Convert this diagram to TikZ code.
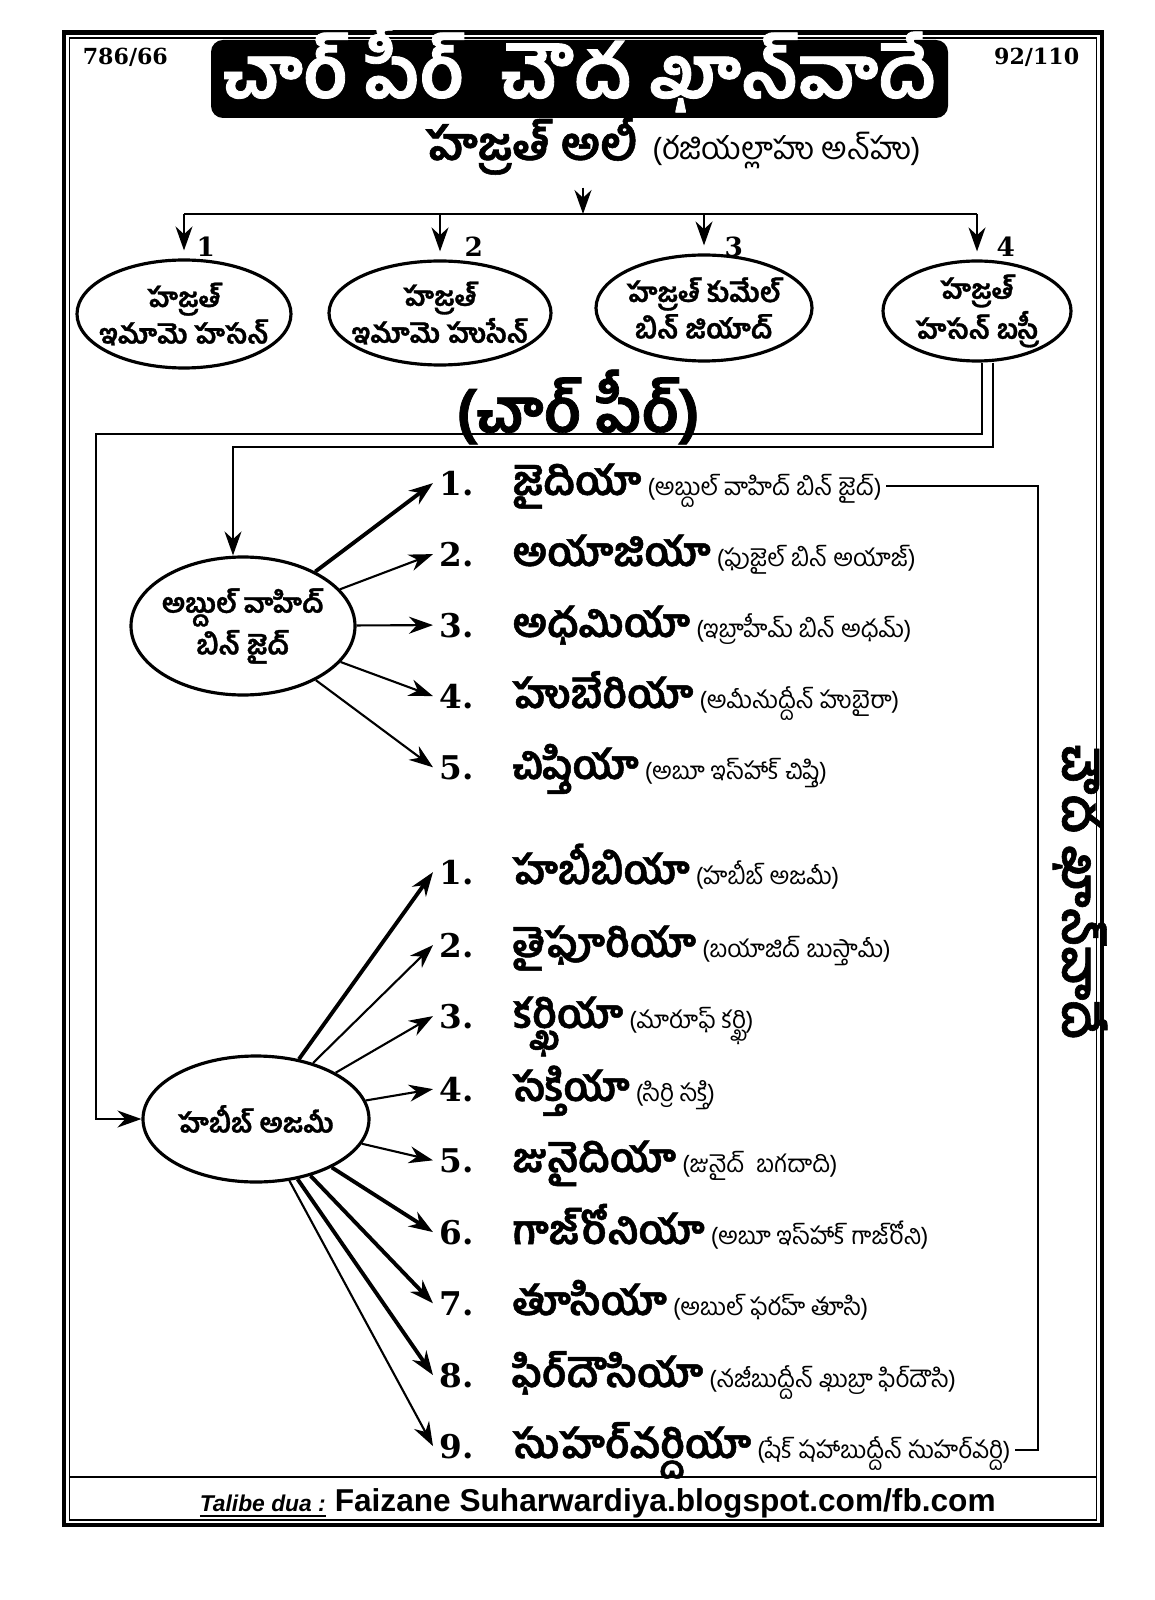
\documentclass[tikz,border=0pt]{standalone}
\usepackage{fontspec}
\usepackage{tikz}
\usetikzlibrary{positioning, arrows.meta, shapes.geometric}

\newfontfamily\telugu[Script=Telugu, BoldFeatures={FakeBold=1.2}]{Hind Guntur}
\newfontfamily\numfont{DejaVu Serif}
\newfontfamily\footfont{Liberation Sans}
\newcommand{\notefont}{\telugu\mdseries\fontsize{6.9}{8}\selectfont}

\begin{document}
\begin{tikzpicture}[
  > = {Stealth[length=2.4mm, width=1.7mm]},
  line width=0.6pt,
  ell/.style={draw, ellipse, line width=0.9pt, inner xsep=-3mm, inner ysep=-1.2mm, align=center,
              font=\telugu\bfseries\fontsize{7.7}{9}\selectfont},
  num/.style={anchor=base west, inner sep=1.5pt,
              font=\numfont\bfseries\fontsize{9.3}{10}\selectfont},
  item/.style={anchor=base west, inner sep=1pt,
               font=\telugu\bfseries\fontsize{11.4}{12}\selectfont},
  lbl/.style={anchor=west, inner sep=1pt, font=\numfont\bfseries\fontsize{7.5}{8}\selectfont},
  corner/.style={font=\numfont\bfseries\fontsize{6.3}{7}\selectfont},
  arr/.style={->, line width=0.6pt},
  arrb/.style={->, line width=1.1pt}
]
  \fill[white] (0,0) rectangle (11.54,-16);
  \useasboundingbox (0,0) rectangle (11.54,-16);

  \draw[line width=1.2pt] (0.64,-0.325) rectangle (11.02,-15.25);
  \draw[line width=0.5pt] (0.695,-0.38) rectangle (10.965,-15.20);
  \draw[line width=0.8pt] (0.695,-14.77) -- (10.965,-14.77);

  \node[corner, anchor=west] (pg)  at (0.70,-0.57)  {786/66};
  \node[corner, anchor=east] (hj)  at (10.92,-0.57) {92/110};
  \node[fill=black, rounded corners=1.2mm, minimum width=7.37cm, minimum height=0.78cm,
        inner sep=0pt, text height=0.43cm, text depth=0.05cm,
        text=white, font=\telugu\bfseries\fontsize{20.7}{22}\selectfont]
    (title) at (5.795,-0.79) {చార్ పీర్~~చౌద ఖాన్^^^^200cవాదే};

  \node[anchor=base east, font=\telugu\bfseries\fontsize{13}{14}\selectfont]
    (ali) at (6.50,-1.60) {హజ్రత్ అలీ};
  \node[anchor=base west, font=\telugu\fontsize{8.9}{10}\selectfont]
    (alinote) at ([xshift=-1mm]ali.base east) {(రజియల్లాహు అన్^^^^200cహు)};

  \coordinate (split) at (5.83,-2.14);
  \draw[arr] (split |- ali.south) -- (split);

  \node[ell, minimum width=2.14cm, minimum height=1.08cm] (hs1) at (1.84,-3.14) {హజ్రత్\\ఇమామె హసన్};
  \node[ell, minimum width=2.22cm, minimum height=1.04cm] (hs2) at (4.40,-3.13) {హజ్రత్\\ఇమామె హుసేన్};
  \node[ell, minimum width=2.16cm, minimum height=1.06cm] (hs3) at (7.04,-3.08) {హజ్రత్ కుమేల్\\బిన్ జియాద్};
  \node[ell, minimum width=1.88cm, minimum height=1.00cm] (hs4) at (9.77,-3.11) {హజ్రత్\\హసన్ బస్రీ};

  \draw (split -| hs1) -- (split -| hs4);
  \draw[arr, shorten >=0.8mm] (split -| hs1) -- (hs1);
  \draw[arr, shorten >=0.8mm] (split -| hs2) -- (hs2);
  \draw[arr, shorten >=0.8mm] (split -| hs3) -- (hs3);
  \draw[arr, shorten >=0.8mm] (split -| hs4) -- (hs4);

  \node[lbl] (l1) at (1.92,-2.47) {1};
  \node[lbl] (l2) at (4.60,-2.47) {2};
  \node[lbl] (l3) at (7.20,-2.47) {3};
  \node[lbl] (l4) at (9.92,-2.47) {4};

  \node[font=\telugu\bfseries\fontsize{17.4}{19}\selectfont] (charpeer) at (5.78,-4.07) {(చార్ పీర్)};

  \node[ell, minimum width=2.24cm, minimum height=1.38cm] (wahid) at (2.43,-6.26) {అబ్దుల్ వాహిద్\\బిన్ జైద్};
  \node[ell, minimum width=2.26cm, minimum height=1.26cm] (habib) at (2.56,-11.19) {హబీబ్ అజమీ};

  \coordinate (bendA) at (9.82,-4.34);
  \coordinate (bendB) at (9.93,-4.47);
  \coordinate (leftA) at (0.96,-4.34);
  \coordinate (leftB) at (2.33,-4.47);
  \draw[arr] (hs4.south -| bendA) |- (leftA) |- (habib);
  \draw[arr] (hs4.south -| bendB) |- (leftB) -- (leftB |- wahid.north);

  \node[num]  (z1)  at (4.33,-4.95) {1.};
  \node[item] (z1t) at (5.08,-4.95) {జైదియా\notefont{} (అబ్దుల్ వాహిద్ బిన్ జైద్)};
  \node[num]  (z2)  at (4.33,-5.66) {2.};
  \node[item] (z2t) at (5.08,-5.66) {అయాజియా\notefont{} (ఫుజైల్ బిన్ అయాజ్)};
  \node[num]  (z3)  at (4.33,-6.37) {3.};
  \node[item] (z3t) at (5.08,-6.37) {అధమియా\notefont{} (ఇబ్రాహీమ్ బిన్ అధమ్)};
  \node[num]  (z4)  at (4.33,-7.08) {4.};
  \node[item] (z4t) at (5.08,-7.08) {హుబేరియా\notefont{} (అమీనుద్దీన్ హుబైరా)};
  \node[num]  (z5)  at (4.33,-7.79) {5.};
  \node[item] (z5t) at (5.08,-7.79) {చిష్తియా\notefont{} (అబూ ఇస్^^^^200cహాక్ చిష్తి)};

  \draw[arrb] (wahid) -- (z1.west);
  \draw[arr]  (wahid) -- (z2.west);
  \draw[arr]  (wahid) -- (z3.west);
  \draw[arr]  (wahid) -- (z4.west);
  \draw[arr]  (wahid) -- (z5.west);

  \node[num]  (h1)  at (4.33,-8.84)  {1.};
  \node[item] (h1t) at (5.08,-8.84)  {హబీబియా\notefont{} (హబీబ్ అజమీ)};
  \node[num]  (h2)  at (4.33,-9.57)  {2.};
  \node[item] (h2t) at (5.08,-9.57)  {తైఫూరియా\notefont{} (బయాజిద్ బుస్తామీ)};
  \node[num]  (h3)  at (4.33,-10.28) {3.};
  \node[item] (h3t) at (5.08,-10.28) {కర్ఖియా\notefont{} (మారూఫ్ కర్ఖి)};
  \node[num]  (h4)  at (4.33,-11.01) {4.};
  \node[item] (h4t) at (5.08,-11.01) {సక్తియా\notefont{} (సిర్రి సక్తి)};
  \node[num]  (h5)  at (4.33,-11.72) {5.};
  \node[item] (h5t) at (5.08,-11.72) {జునైదియా\notefont{} (జునైద్~~బగదాది)};
  \node[num]  (h6)  at (4.33,-12.44) {6.};
  \node[item] (h6t) at (5.08,-12.44) {గాజ్^^^^200cరోనియా\notefont{} (అబూ ఇస్^^^^200cహాక్ గాజ్^^^^200cరోని)};
  \node[num]  (h7)  at (4.33,-13.15) {7.};
  \node[item] (h7t) at (5.08,-13.15) {తూసియా\notefont{} (అబుల్ ఫరహ్ తూసి)};
  \node[num]  (h8)  at (4.33,-13.87) {8.};
  \node[item] (h8t) at (5.08,-13.87) {ఫిర్^^^^200cదౌసియా\notefont{} (నజీబుద్దీన్ ఖుబ్రా ఫిర్^^^^200cదౌసి)};
  \node[num]  (h9)  at (4.33,-14.58) {9.};
  \node[item] (h9t) at (5.08,-14.58) {సుహర్^^^^200cవర్దియా\notefont{} (షేక్ షహాబుద్దీన్ సుహర్^^^^200cవర్ది)};

  \draw[arrb] (habib) -- (h1.west);
  \draw[arr]  (habib) -- (h2.west);
  \draw[arr]  (habib) -- (h3.west);
  \draw[arr]  (habib) -- (h4.west);
  \draw[arr]  (habib) -- (h5.west);
  \draw[arrb] (habib) -- (h6.west);
  \draw[arrb] (habib) -- (h7.west);
  \draw[arrb] (habib) -- (h8.west);
  \draw[arr]  (habib) -- (h9.west);

  \coordinate (brk) at (10.38,-9.6);
  \draw (z1t.east) -| (brk) |- (h9t.east);
  \node[rotate=-90, font=\telugu\bfseries\fontsize{14}{15}\selectfont]
    (vert) at (10.80,-8.92) {చౌద ఖాన్^^^^200cవాదే};

  \node[anchor=base west, font=\footfont\bfseries\itshape\fontsize{6.5}{8}\selectfont]
    (tal) at (1.87,-15.11) {\underline{Talibe dua :}};
  \node[anchor=base west, font=\footfont\bfseries\fontsize{9}{10}\selectfont]
    (fz) at (3.22,-15.11) {Faizane Suharwardiya.blogspot.com/fb.com};
\end{tikzpicture}
\end{document}
